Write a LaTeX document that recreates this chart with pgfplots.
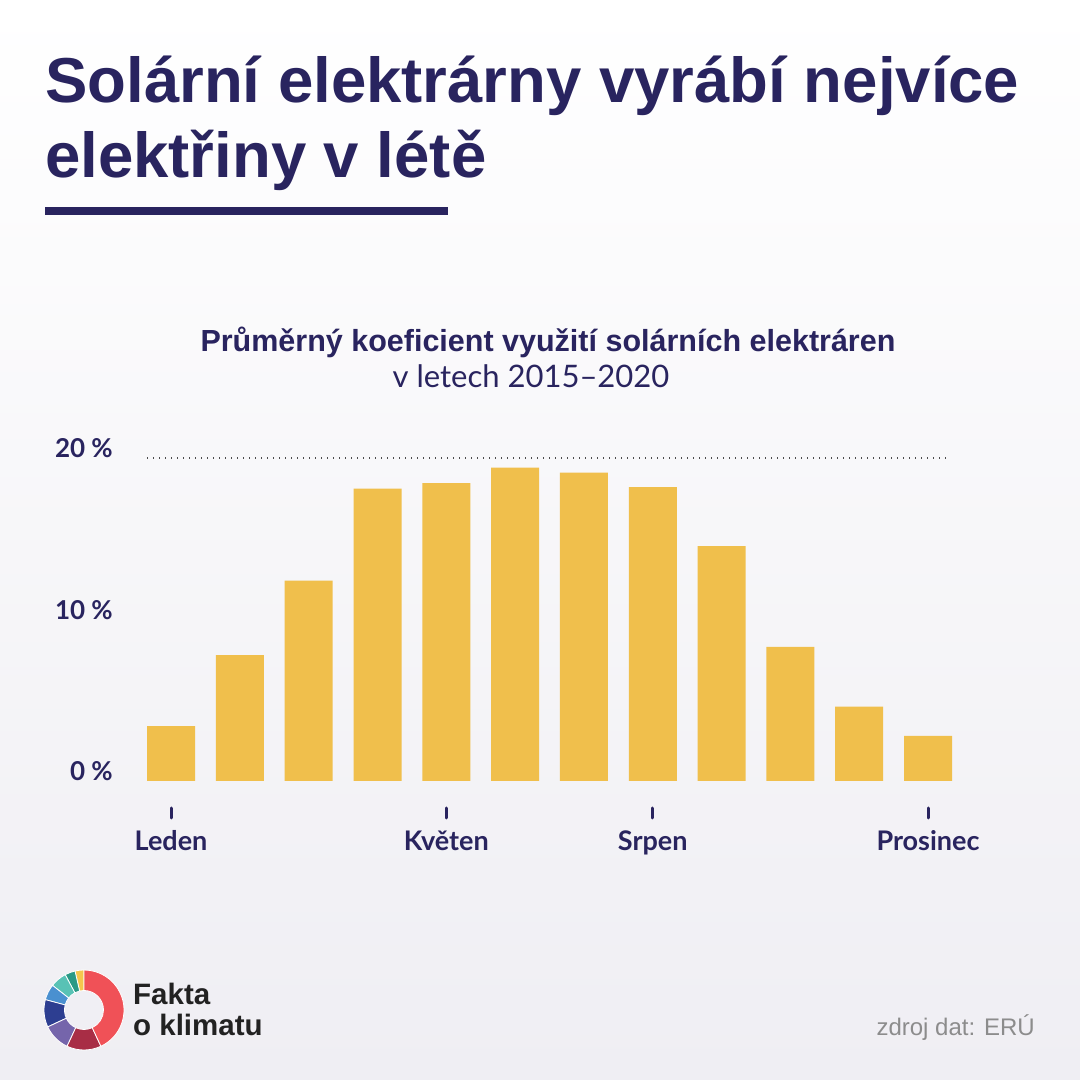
\documentclass[border=0pt]{standalone}
\usepackage{pgfplots}
\pgfplotsset{compat=1.18}
\usepackage{fontspec}
\setmainfont{Lato}
\newfontfamily\arialf{Liberation Sans}
\definecolor{navy}{HTML}{29245F}
\definecolor{barc}{HTML}{F0BF4C}
\definecolor{bgbot}{HTML}{EFEEF3}
\definecolor{logotext}{HTML}{222222}
\definecolor{srcgray}{HTML}{8C8C8C}
\definecolor{lred}{HTML}{F05157}
\definecolor{ldred}{HTML}{A82D45}
\definecolor{lpurple}{HTML}{7565AB}
\definecolor{lnavy}{HTML}{2D3E91}
\definecolor{lblue}{HTML}{4A90D0}
\definecolor{lteal}{HTML}{58C2B5}
\definecolor{ldteal}{HTML}{2A9A86}
\definecolor{lyellow}{HTML}{F5C64D}
\begin{document}
\begin{tikzpicture}[x=1pt,y=1pt]
\useasboundingbox (0,0) rectangle (1080,1080);
\shade[top color=white, bottom color=bgbot] (0,0) rectangle (1080,1080);
% title
\node[anchor=base west, inner sep=0, text=navy, font=\arialf\fontsize{63.5}{70}\selectfont\bfseries] at (45,977) {Solární elektrárny vyrábí nejvíce};
\node[anchor=base west, inner sep=0, text=navy, font=\arialf\fontsize{63.5}{70}\selectfont\bfseries] at (45,902) {elektřiny v létě};
\fill[navy] (45,865) rectangle (448,873);
% chart title
\node[anchor=base, inner sep=0, text=navy, font=\arialf\fontsize{30.5}{34}\selectfont\bfseries] at (548,728) {Průměrný koeficient využití solárních elektráren};
\node[anchor=base, inner sep=0, text=navy, font=\fontsize{31}{34}\selectfont] at (531,692) {v letech 2015–2020};
\begin{axis}[
  at={(147pt,299pt)}, anchor=south west,
  scale only axis, width=801pt, height=323pt,
  xmin=-0.35, xmax=11.29, ymin=0, ymax=20,
  axis x line*=bottom, axis y line*=left,
  axis line style={draw=none},
  tick align=outside,
  major tick length=10pt,
  xtick={0,4,7,11},
  xticklabels={Leden,Květen,Srpen,Prosinec},
  xtick style={draw=navy, line width=3pt, line cap=round, yshift=-27pt},
  xticklabel style={anchor=base, inner sep=0pt, yshift=-60pt, text=navy, font=\fontsize{27}{30}\selectfont\bfseries},
  ytick={0,10},
  yticklabels={0 \%,10 \%},
  extra y ticks={20},
  extra y tick labels={20 \%},
  extra y tick style={ymajorgrids=true, major grid style={draw=black!70, line width=1.2pt, dash pattern=on 1pt off 5pt}},
  ytick style={draw=none},
  yticklabel style={anchor=base east, inner sep=0pt, xshift=-24pt, text=navy, font=\fontsize{26}{30}\selectfont\bfseries},
  clip=false,
]
\addplot[ybar, bar width=48pt, fill=barc, draw=none] coordinates {
 (0,3.4) (1,7.8) (2,12.4) (3,18.1) (4,18.45) (5,19.4)
 (6,19.1) (7,18.2) (8,14.55) (9,8.3) (10,4.6) (11,2.8)};
\end{axis}
% logo
\begin{scope}[shift={(84,70)}]
\foreach \a/\b/\c in {90/103/lyellow,103/118/ldteal,118/142/lteal,142/165/lblue,165/205/lnavy,205/245/lpurple,245/295/ldred,295/450/lred}{
  \fill[\c, draw=white, line width=0.8pt] (\a:40) arc[start angle=\a, end angle=\b, radius=40] -- (\b:19.5) arc[start angle=\b, end angle=\a, radius=19.5] -- cycle;
}
\end{scope}
\node[anchor=base west, inner sep=0, text=logotext, font=\arialf\fontsize{29.5}{32}\selectfont\bfseries] at (133,75) {Fakta};
\node[anchor=base west, inner sep=0, text=logotext, font=\arialf\fontsize{29.5}{32}\selectfont\bfseries] at (133,45) {o klimatu};
\node[anchor=base east, inner sep=0, text=srcgray, font=\arialf\fontsize{24}{28}\selectfont] at (1035,45) {zdroj dat: ERÚ};
\end{tikzpicture}
\end{document}
